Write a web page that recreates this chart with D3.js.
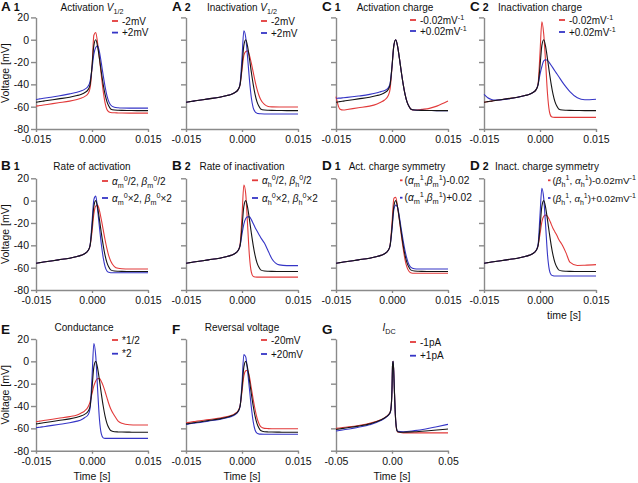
<!DOCTYPE html>
<html><head><meta charset="utf-8">
<script src="https://cdn.jsdelivr.net/npm/d3@7/dist/d3.min.js"></script>
<style>
body{margin:0;background:#fff}
text{font-family:"Liberation Sans",Arial,sans-serif;fill:#111}
</style>
</head><body>
<svg id="chart" width="638" height="483"></svg>
<script>
// ---------- DATA ----------
const timeMain = [-0.015,-0.0145,-0.014,-0.013,-0.012,-0.009,-0.006,-0.004,-0.003,-0.002,-0.001,-0.0005,0,0.0005,0.001,0.0015,0.002,0.0025,0.003,0.0035,0.004,0.0045,0.005,0.006,0.007,0.008,0.01,0.012,0.015];
const timeG = [-0.05,-0.04,-0.03,-0.02,-0.01,-0.005,-0.002,-0.001,0,0.0005,0.001,0.0015,0.002,0.003,0.004,0.005,0.01,0.02,0.03,0.04,0.05];

const control = [-56,-55.8,-55.5,-55,-54.5,-53,-51.5,-50,-49,-47.5,-44.5,-40,-24,-5,0,-6,-17,-29,-40,-49,-55.5,-59.5,-62,-63,-63.2,-63.3,-63.4,-63.5,-63.5];

const a1Red  = [-59.5,-59.3,-59,-58.5,-58,-56.5,-55,-53.5,-52.5,-51,-48,-43,-25,4,6.5,-3,-17,-32,-46,-56.5,-62.5,-64.5,-65.2,-65.5,-65.6,-65.7,-65.8,-65.8,-65.8];
const a1Blue = [-53.5,-53.3,-53,-52.5,-52,-50.5,-48.5,-47,-46,-44.5,-41.5,-37,-26,-13,-7,-5.5,-11,-21,-32,-42,-50,-55.5,-58.5,-60.5,-61,-61.2,-61.3,-61.3,-61.3];

const a2Red  = [-56,-55.8,-55.5,-55,-54.5,-53,-51.5,-50,-49,-47.5,-44.5,-40,-27,-14,-10.5,-10,-14,-21,-29,-37,-44,-49.5,-53.5,-58,-59.8,-60.2,-60.3,-60.3,-60.3];
const a2Blue = [-56,-55.8,-55.5,-55,-54.5,-53,-51.5,-50,-49,-47.5,-44.5,-39,-16,8,2,-16,-36,-52,-61,-64.5,-65.8,-66.2,-66.4,-66.5,-66.5,-66.5,-66.5,-66.5,-66.5];

const c1Red  = [-51,-58,-62,-63,-62.5,-61,-59.5,-57.5,-56,-54,-50,-44,-25,-5,0,-6,-17,-29,-40,-49,-55.5,-59.5,-62,-63,-62.8,-62.4,-61.5,-59.5,-55];
const c1Blue = [-52.5,-52.4,-52.3,-52,-51.7,-50.5,-49,-47.5,-46.5,-45.5,-43,-39,-24,-5,0,-6,-17,-29,-40,-49,-55.5,-59.5,-62,-63,-63.2,-63.3,-63.4,-63.5,-63.5];

const c2Red  = [-56,-55.8,-55.5,-55,-54.5,-53,-51.5,-50,-49,-47.5,-44.5,-39,-12,16,5,-20,-48,-64,-68.8,-69.5,-69.6,-69.6,-69.6,-69.6,-69.6,-69.6,-69.6,-69.6,-69.6];
const c2Blue = [-49,-50.5,-52,-53.5,-54,-53.2,-51.5,-50,-49,-47.5,-44.5,-40,-31,-24,-19,-18,-18.5,-20.5,-23,-25.5,-28,-30.5,-33,-38,-42.5,-46.5,-52,-53.8,-53.3];

const b1Red  = [-56,-55.8,-55.5,-55,-54.5,-53,-51.5,-50,-49,-47.5,-44.5,-40,-28,-12,-5,-4,-9,-17,-26,-35,-43,-49.5,-54,-59,-60.6,-61,-61.2,-61.2,-61.2];
const b1Blue = [-56,-55.8,-55.5,-55,-54.5,-53,-51.5,-50,-49,-47.5,-44.5,-39.5,-20,1,4,-8,-24,-39,-51,-59,-63,-64.2,-64.5,-64.6,-64.6,-64.6,-64.6,-64.6,-64.6];

const b2Red  = [-56,-55.8,-55.5,-55,-54.5,-53,-51.5,-50,-49,-47.5,-44.5,-39,-14,14,6,-22,-50,-64,-67.8,-68.4,-68.5,-68.5,-68.5,-68.5,-68.5,-68.5,-68.5,-68.5,-68.5];
const b2Blue = [-56,-55.8,-55.5,-55,-54.5,-53,-51.5,-50,-49,-47.5,-44.5,-40,-30,-21,-16,-14.5,-14.5,-17,-20.5,-24,-27,-30,-33,-38,-45,-52,-57.5,-58.2,-58.2];

const d1Red  = [-56,-55.8,-55.5,-55,-54.5,-53,-51.5,-50,-49,-47.5,-44.5,-39.5,-20,2,3,-6,-18,-31,-43,-53,-59.5,-63,-64.5,-65,-65,-65,-65,-65,-65];
const d1Blue = [-56,-55.8,-55.5,-55,-54.5,-53,-51.5,-50,-49,-47.5,-44.5,-40,-26,-8,-4,-6,-15,-26,-36,-45,-52,-57,-59.5,-61,-61.2,-61.2,-61.2,-61.2,-61.2];

const d2Red  = [-56,-55.8,-55.5,-55,-54.5,-53,-51.5,-50,-49,-47.5,-44.5,-40,-30,-19,-14,-13,-14,-17,-21,-25,-28,-31,-34.5,-40,-47,-55,-58,-57.8,-57.3];
const d2Blue = [-56,-55.8,-55.5,-55,-54.5,-53,-51.5,-50,-49,-47.5,-44.5,-39,-13,11,2,-22,-48,-62,-66.5,-67.3,-67.5,-67.5,-67.5,-67.5,-67.5,-67.5,-67.5,-67.5,-67.5];

const eRed   = [-54,-53.8,-53.5,-53,-52.5,-51,-49.5,-48,-46.5,-44.5,-40.5,-36,-29,-22,-17.5,-15.5,-15.5,-18,-22,-27,-32.5,-38,-42.5,-48.5,-53.5,-55.5,-56.8,-57,-57];
const eBlue  = [-59.4,-59.2,-59,-58.5,-58,-56.5,-55,-53.5,-52.5,-50.5,-47.5,-42,-15,16,5,-25,-52,-65,-68.5,-69,-69,-69,-69,-69,-69,-69,-69,-69,-69];

const fRed   = [-55,-54.8,-54.5,-54,-53.5,-52.2,-50.8,-49.5,-48.5,-47,-44,-39.5,-27,-13,-8.5,-8,-14,-24,-34,-43,-50.5,-55.5,-58.5,-60,-60.2,-60.3,-60.3,-60.3,-60.3];
const fBlue  = [-56.4,-56.2,-55.9,-55.4,-55,-53.5,-52,-50.5,-49.5,-48,-45,-40,-20,6,4,-9,-25,-41,-54,-61.5,-64.3,-65,-65.2,-65.3,-65.3,-65.3,-65.3,-65.3,-65.3];

const gBlack = [-61,-59.5,-58,-56,-52.5,-49.5,-46.5,-43,-25,-3,0,-8,-22,-48,-60,-63,-63.5,-63,-62.3,-61.5,-60.6];
const gRed   = [-60,-58.8,-57.4,-55.5,-52.3,-49.3,-46.3,-42.8,-25,-3,0,-8,-22,-48,-60.3,-63.3,-64,-64,-64,-64,-64];
const gBlue  = [-62.4,-60.8,-59,-56.8,-53,-49.8,-46.8,-43.2,-25,-3,0,-8,-22,-48,-59.7,-62.7,-63,-62,-60.5,-58.5,-56.4];

const yTicks = [-80,-60,-40,-20,0,20];
const xTicksMain = [-0.015,0,0.015];
const xTicksG = [-0.05,0,0.05];

// ---------- LAYOUT ----------
const colX = [36,186,336,484];
const plotW = 112;
const rows = [{top:17.4,bottom:129},{top:178.3,bottom:290},{top:339,bottom:450.7}];
const RED = "#e23a3a", BLUE = "#3535c6", BLACK = "#151515", AXIS = "#8a8a8a";

const mV = [{t:"-0.02mV"},{t:"-1",sup:true}];
const pV = [{t:"+0.02mV"},{t:"-1",sup:true}];

const panels = [
 {L:"A",n:"1",col:0,row:0,title:[{t:"Activation  "},{t:"V",it:true},{t:"1/2",sub:true}],t:timeMain,red:a1Red,blue:a1Blue,black:control,leg:[[{t:"-2mV"}],[{t:"+2mV"}]],lx:76,ly:[3.6,15.2],lw:6},
 {L:"A",n:"2",col:1,row:0,title:[{t:"Inactivation  "},{t:"V",it:true},{t:"1/2",sub:true}],t:timeMain,red:a2Red,blue:a2Blue,black:control,leg:[[{t:"-2mV"}],[{t:"+2mV"}]],lx:75,ly:[3.6,15.6],lw:6},
 {L:"C",n:"1",col:2,row:0,tdx:3,title:[{t:"Activation charge"}],t:timeMain,red:c1Red,blue:c1Blue,black:control,leg:[mV,pV],lx:74,ly:[2.6,13.6],lw:6},
 {L:"C",n:"2",col:3,row:0,title:[{t:"Inactivation charge"}],t:timeMain,red:c2Red,blue:c2Blue,black:control,leg:[mV,pV],lx:75,ly:[2.6,14.6],lw:6},
 {L:"B",n:"1",col:0,row:1,title:[{t:"Rate of activation"}],t:timeMain,red:b1Red,blue:b1Blue,black:control,
   leg:[[{t:"α",it:true},{t:"m",sub:true},{t:"0",sup:true},{t:"/2, "},{t:"β",it:true},{t:"m",sub:true},{t:"0",sup:true},{t:"/2"}],
        [{t:"α",it:true},{t:"m",sub:true},{t:"0",sup:true},{t:"×2, "},{t:"β",it:true},{t:"m",sub:true},{t:"0",sup:true},{t:"×2"}]],lx:66,ly:[2.7,19.7],lw:6},
 {L:"B",n:"2",col:1,row:1,title:[{t:"Rate of inactivation"}],t:timeMain,red:b2Red,blue:b2Blue,black:control,
   leg:[[{t:"α",it:true},{t:"h",sub:true},{t:"0",sup:true},{t:"/2, "},{t:"β",it:true},{t:"h",sub:true},{t:"0",sup:true},{t:"/2"}],
        [{t:"α",it:true},{t:"h",sub:true},{t:"0",sup:true},{t:"×2, "},{t:"β",it:true},{t:"h",sub:true},{t:"0",sup:true},{t:"×2"}]],lx:66,ly:[2,19.7],lw:6},
 {L:"D",n:"1",col:2,row:1,tdx:5,title:[{t:"Act. charge symmetry"}],t:timeMain,red:d1Red,blue:d1Blue,black:control,lfs:10.2,
   leg:[[{t:"("},{t:"α",it:true},{t:"m",sub:true},{t:"1",sup:true},{t:","},{t:"β",it:true},{t:"m",sub:true},{t:"1",sup:true},{t:")-0.02"}],
        [{t:"("},{t:"α",it:true},{t:"m",sub:true},{t:"1",sup:true},{t:","},{t:"β",it:true},{t:"m",sub:true},{t:"1",sup:true},{t:")+0.02"}]],lx:64,ly:[2,19.4],lw:2.5},
 {L:"D",n:"2",col:3,row:1,tdx:7,title:[{t:"Inact. charge symmetry"}],t:timeMain,red:d2Red,blue:d2Blue,black:control,lfs:10.2,
   leg:[[{t:"("},{t:"β",it:true},{t:"h",sub:true},{t:"1",sup:true},{t:", "},{t:"α",it:true},{t:"h",sub:true},{t:"1",sup:true},{t:")-0.02mV"},{t:"-1",sup:true}],
        [{t:"("},{t:"β",it:true},{t:"h",sub:true},{t:"1",sup:true},{t:", "},{t:"α",it:true},{t:"h",sub:true},{t:"1",sup:true},{t:")+0.02mV"},{t:"-1",sup:true}]],lx:64,ly:[2,19.7],lw:2.5},
 {L:"E",n:"",col:0,row:2,tdx:-8,title:[{t:"Conductance"}],t:timeMain,red:eRed,blue:eBlue,black:control,leg:[[{t:"*1/2"}],[{t:"*2"}]],lx:76,ly:[1,14.7],lw:6},
 {L:"F",n:"",col:1,row:2,title:[{t:"Reversal voltage"}],t:timeMain,red:fRed,blue:fBlue,black:control,leg:[[{t:"-20mV"}],[{t:"+20mV"}]],lx:75,ly:[1,15],lw:6},
 {L:"G",n:"",col:2,row:2,tdx:-3,title:[{t:"I",it:true},{t:"DC",sub:true}],t:timeG,red:gRed,blue:gBlue,black:gBlack,leg:[[{t:"-1pA"}],[{t:"+1pA"}]],lx:74,ly:[3,16.7],lw:6,g:true}
];
const titleY = [10.5,169.5,331];
const letterY = [10.5,170,334];

const svg = d3.select("#chart");

function richText(sel, segs, size){
  sel.selectAll("tspan").remove();
  sel.attr("font-size", size);
  let cur = 0;
  segs.forEach(s=>{
    const want = s.sub ? size*0.3 : (s.sup ? -size*0.4 : 0);
    const ts = sel.append("tspan").text(s.t).attr("dy", want-cur);
    if(s.it) ts.attr("font-style","italic");
    if(s.sub||s.sup) ts.attr("font-size", size*0.72);
    cur = want;
  });
}

panels.forEach(p=>{
  const x0 = colX[p.col], r = rows[p.row];
  const dom = p.g ? [-0.05,0.05] : [-0.015,0.015];
  const x = d3.scaleLinear().domain(dom).range([x0, x0+plotW]);
  const y = d3.scaleLinear().domain([-80,20]).range([r.bottom, r.top]);
  const g = svg.append("g");

  // axes
  const ya = d3.axisLeft(y).tickValues(yTicks).tickSize(5).tickPadding(2).tickSizeOuter(0)
      .tickFormat(p.col===0 ? (d=>String(d)) : (()=>""));
  const yg = g.append("g").attr("transform",`translate(${x0},0)`).call(ya);
  const xa = d3.axisBottom(x).tickValues(p.g?xTicksG:xTicksMain).tickSize(3).tickPadding(4).tickSizeOuter(0)
      .tickFormat(d=> p.g ? d.toFixed(2) : d.toFixed(3));
  const xg = g.append("g").attr("transform",`translate(0,${r.bottom})`).call(xa);
  [yg,xg].forEach(a=>{
    a.selectAll(".domain,.tick line").attr("stroke",AXIS).attr("stroke-width",1.4);
    a.selectAll("text").attr("font-size",10.5).attr("fill","#111").attr("font-family",'"Liberation Sans",Arial,sans-serif');
  });

  // lines
  const line = d3.line().x((d,i)=>x(p.t[i])).y(d=>y(d)).curve(d3.curveMonotoneX);
  [[p.red,RED],[p.blue,BLUE],[p.black,BLACK]].forEach(([vals,c])=>{
    g.append("path").attr("d",line(vals)).attr("fill","none").attr("stroke",c).attr("stroke-width",1.1);
  });

  // title
  const tt = g.append("text").attr("x",x0+plotW/2+(p.tdx||0)).attr("y",titleY[p.row]).attr("text-anchor","middle");
  richText(tt,p.title,10);

  // panel letter
  const lt = g.append("text").attr("x",x0 - (p.col===0?35:14)).attr("y",letterY[p.row]).attr("font-weight","bold");
  lt.append("tspan").text(p.L).attr("font-size",13.5);
  if(p.n) lt.append("tspan").text(p.n).attr("font-size",10.5).attr("dx",3);

  // legend
  const fs = p.lfs || 10;
  [RED,BLUE].forEach((c,i)=>{
    const ly = r.top + p.ly[i];
    g.append("line").attr("x1",x0+p.lx).attr("x2",x0+p.lx+p.lw).attr("y1",ly).attr("y2",ly).attr("stroke",c).attr("stroke-width",1.8);
    const tx = x0+p.lx+p.lw+(p.lw<4?2:4);
    const t = g.append("text").attr("x",tx).attr("y",ly+3.6);
    richText(t,p.leg[i],fs);
    // shrink to fit inside the canvas if needed
    const len = t.node().getComputedTextLength();
    if(tx+len > 636){ richText(t,p.leg[i],fs*(636-tx)/len); }
  });

  // y label
  if(p.col===0){
    g.append("text").attr("transform",`translate(8.5,${(r.top+r.bottom)/2}) rotate(-90)`).attr("text-anchor","middle").attr("font-size",10.5).text("Voltage [mV]");
  }
  if(p.row===2){
    g.append("text").attr("x",x0+plotW/2).attr("y",479.5).attr("text-anchor","middle").attr("font-size",10.5).text("Time [s]");
  }
  if(p.row===1 && p.col===3){
    g.append("text").attr("x",x0+plotW/2+24).attr("y",319).attr("text-anchor","middle").attr("font-size",10.5).text("time [s]");
  }
});
</script>
</body></html>
